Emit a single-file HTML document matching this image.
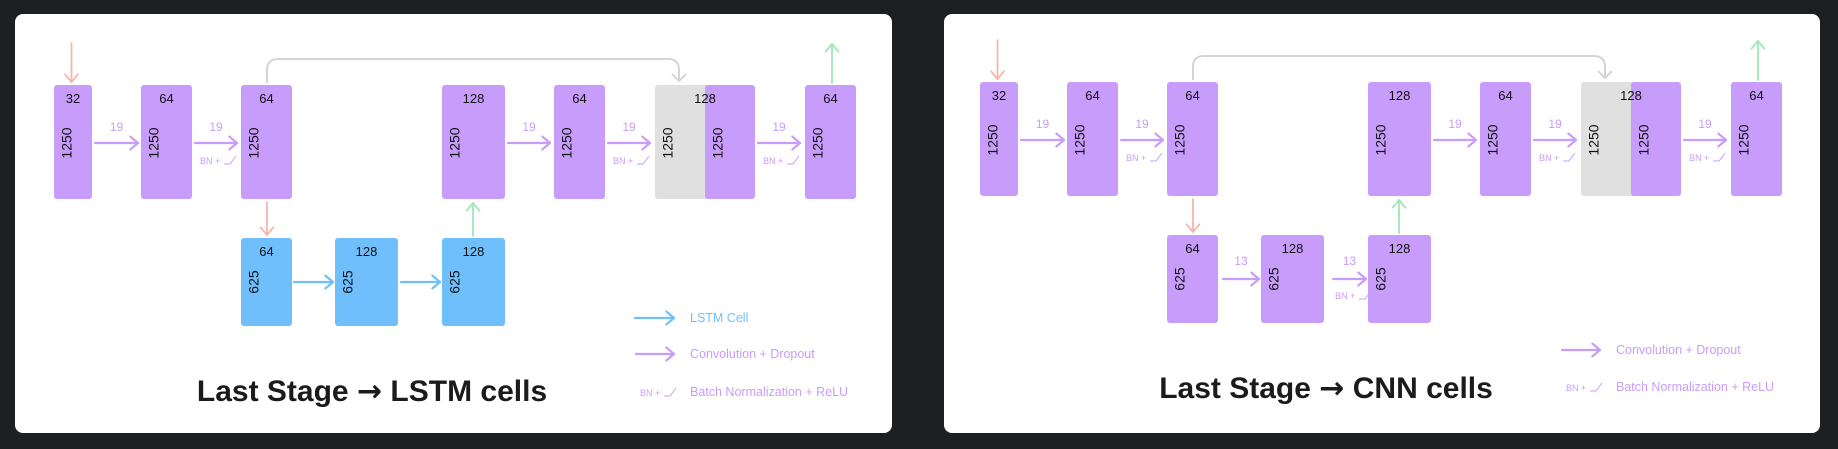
<!DOCTYPE html>
<html><head><meta charset="utf-8">
<style>
html,body{margin:0;padding:0;background:#1e1f21;}
svg{display:block;}
text{font-family:"Liberation Sans",sans-serif;}
</style></head>
<body>
<svg id="s" width="1838" height="449" viewBox="0 0 1838 449" xmlns="http://www.w3.org/2000/svg">
<rect x="15" y="14" width="877" height="419" rx="8" fill="#fff"/>
<rect x="944" y="14" width="876" height="419" rx="8" fill="#fff"/>
<g id="L"></g>
<g id="R" transform="translate(926,-3)"></g>
</svg>
<script>
const NS="http://www.w3.org/2000/svg";
const PURPLE="#c89cfb", BLUE="#6ebffb", GRAY="#e0e0e0", RED="#f7b5a9", GREEN="#9de8b5";
// top row boxes: [left, width, channels, length]
const topBoxes=[[54,38,"32","1250"],[141,51,"64","1250"],[241,51,"64","1250"],[442,63,"128","1250"],[554,51,"64","1250"],[705,50,"","1250"],[805,51,"64","1250"]];
const bottomBoxes=[[241,51,"64","625"],[335,63,"128","625"],[442,63,"128","625"]];
// top arrows: [x1,x2,label,bn]
const topArrows=[[95,138,"19",false],[195,237,"19",true],[508,550,"19",false],[608,650,"19",true],[758,800,"19",true]];
const bottomArrowsL=[[294,333,"",false],[401,440,"",false]];
const bottomArrowsR=[[297,333,"13",false],[407,440,"13",true]];

function el(p,tag,attrs,txt){const e=document.createElementNS(NS,tag);for(const k in attrs)e.setAttribute(k,attrs[k]);if(txt!==undefined)e.textContent=txt;p.appendChild(e);return e;}
function arrow(p,x1,y1,x2,y2,col,w){
  const g=el(p,"g",{stroke:col,"stroke-width":w||2.2,fill:"none","stroke-linecap":"round","stroke-linejoin":"round"});
  el(g,"line",{x1:x1,y1:y1,x2:x2,y2:y2});
  const a=Math.atan2(y2-y1,x2-x1),h=10;
  el(g,"polyline",{points:(x2-h*Math.cos(a-0.7))+","+(y2-h*Math.sin(a-0.7))+" "+x2+","+y2+" "+(x2-h*Math.cos(a+0.7))+","+(y2-h*Math.sin(a+0.7))});
  return g;
}
function bn(p,x,y){
  el(p,"text",{x:x,y:y,"font-size":9,fill:PURPLE},"BN +");
  el(p,"polyline",{points:(x+24)+","+(y)+" "+(x+30)+","+y+" "+(x+36)+","+(y-8),stroke:PURPLE,"stroke-width":1,fill:"none"});
}
function box(p,b,y,h,col,name){
  const g=el(p,"g",{});
  
  
  el(g,"rect",{x:b[0],y:y,width:b[1],height:h,rx:3,fill:col});
  if(b[2]) el(g,"text",{x:b[0]+b[1]/2,y:y+18,"font-size":13,"text-anchor":"middle",fill:"#111"},b[2]);
  const cy=y+(h<100?44:58);
  el(g,"text",{x:b[0]+14,y:cy,"font-size":14,"text-anchor":"middle",fill:"#111",transform:"rotate(-90 "+(b[0]+14)+" "+cy+")","dominant-baseline":"middle"},b[3]);
}
function panel(p,lstm){
  el(p,"path",{d:"M267,83 L267,70 Q267,59 278,59 L668,59 Q679,59 679,70 L679,81",stroke:"#d5d5d5","stroke-width":2,fill:"none"});
  el(p,"polyline",{points:"672,74 679,81 686,74",stroke:"#d5d5d5","stroke-width":2,fill:"none"});
  const gb=el(p,"rect",{x:655,y:85,width:55,height:114,rx:3,fill:GRAY});
  
  
  topBoxes.forEach((b,i)=>box(p,b,85,114,PURPLE,"conv-block-"+(i+1)));
  el(p,"text",{x:705,y:103,"font-size":13,"text-anchor":"middle",fill:"#111"},"128");
  el(p,"text",{x:669,y:143,"font-size":14,"text-anchor":"middle",fill:"#111",transform:"rotate(-90 669 143)","dominant-baseline":"middle"},"1250");
  bottomBoxes.forEach((b,i)=>box(p,b,238,88,lstm?BLUE:PURPLE,(lstm?"lstm-block-":"cnn-block-")+(i+1)));
  topArrows.forEach(a=>{arrow(p,a[0],143,a[1],143,PURPLE);el(p,"text",{x:(a[0]+a[1])/2,y:131,"font-size":12,"text-anchor":"middle",fill:PURPLE},a[2]);if(a[3])bn(p,a[0]+5,164);});
  (lstm?bottomArrowsL:bottomArrowsR).forEach(a=>{arrow(p,a[0],282,a[1],282,lstm?BLUE:PURPLE);if(a[2])el(p,"text",{x:(a[0]+a[1])/2,y:268,"font-size":12,"text-anchor":"middle",fill:PURPLE},a[2]);if(a[3])bn(p,a[0]+2,302);});
  arrow(p,71.5,43,71.5,82,RED,1.8);
  arrow(p,267,202,267,235,RED,1.8);
  arrow(p,473,236,473,203,GREEN,1.8);
  arrow(p,832,83,832,44,GREEN,1.8);
  let ly=lstm?[318,354,392]:[353,390];
  let k=0;
  if(lstm){arrow(p,635,ly[0],674,ly[0],BLUE);el(p,"text",{x:690,y:ly[0]+4,"font-size":12.5,fill:BLUE},"LSTM Cell");k=1;}
  arrow(p,636,ly[k],674,ly[k],PURPLE);el(p,"text",{x:690,y:ly[k]+4,"font-size":12.5,fill:PURPLE},"Convolution + Dropout");
  bn(p,640,ly[k+1]+4);el(p,"text",{x:690,y:ly[k+1]+4,"font-size":12.5,fill:PURPLE},"Batch Normalization + ReLU");
  const t=el(p,"text",{x:lstm?372:400,y:401,"font-size":30,"font-weight":"bold","text-anchor":"middle",fill:"#1b1b1b"});
  
  
  el(t,"tspan",{},"Last Stage ");
  el(t,"tspan",{"font-family":"DejaVu Sans"},"→");
  el(t,"tspan",{},lstm?" LSTM cells":" CNN cells");
}
panel(document.getElementById("L"),true);
panel(document.getElementById("R"),false);
</script>
</body></html>
